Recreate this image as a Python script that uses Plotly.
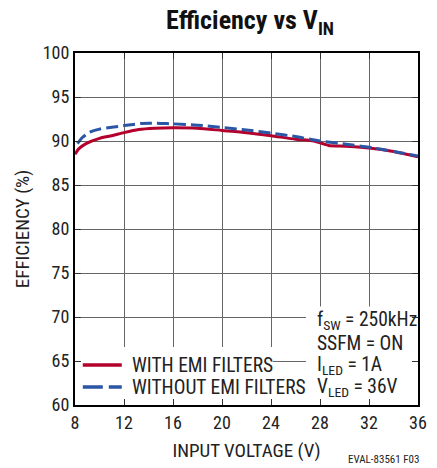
import plotly.graph_objects as go

# Data
vin_with = [8.0, 8.3, 8.9, 10.0, 11.0, 12.0, 13.2, 14.5, 16.0, 18.0, 20.0, 22.0, 24.0, 26.0, 27.5, 28.7, 30.0, 32.0, 34.0, 36.0]
eff_with = [88.5, 89.1, 89.7, 90.3, 90.6, 90.95, 91.3, 91.45, 91.5, 91.45, 91.2, 90.95, 90.6, 90.2, 90.0, 89.5, 89.4, 89.2, 88.8, 88.2]
vin_without = [8.2, 8.6, 9.2, 10.0, 11.0, 12.0, 13.5, 15.0, 16.0, 18.0, 20.0, 22.0, 24.0, 26.0, 28.0, 30.0, 32.0, 34.0, 36.0]
eff_without = [89.7, 90.4, 91.0, 91.35, 91.55, 91.75, 92.0, 92.0, 91.95, 91.8, 91.55, 91.25, 90.9, 90.5, 90.0, 89.65, 89.3, 88.8, 88.3]

x_ticks = [8, 12, 16, 20, 24, 28, 32, 36]
y_ticks = [60, 65, 70, 75, 80, 85, 90, 95, 100]

series_names = ["WITH EMI FILTERS", "WITHOUT EMI FILTERS"]
RED = "#b4002d"
BLUE = "#2b55a5"
FONT = "Liberation Sans Narrow, Arial Narrow, Roboto Condensed, sans-serif"
TXT = "#222222"

fig = go.Figure()
fig.add_trace(go.Scatter(x=vin_with, y=eff_with, mode="lines", name=series_names[0],
                         line=dict(color=RED, width=3, shape="spline", smoothing=0.6),
                         showlegend=False))
fig.add_trace(go.Scatter(x=vin_without, y=eff_without, mode="lines", name=series_names[1],
                         line=dict(color=BLUE, width=3, dash="12px,5px", shape="spline", smoothing=0.6),
                         showlegend=False))

axis_common = dict(showgrid=True, gridcolor="#666666", gridwidth=1,
                   showline=True, linecolor="black", linewidth=2, mirror="ticks",
                   ticks="inside", ticklen=6, tickcolor="#333333", tickwidth=1,
                   zeroline=False, tickfont=dict(family=FONT, size=18, color=TXT))

fig.update_xaxes(range=[8, 36], tickvals=x_ticks, ticktext=[str(v) for v in x_ticks],
                 title=dict(text="INPUT VOLTAGE (V)", font=dict(family=FONT, size=19, color=TXT), standoff=12),
                 **axis_common)
fig.update_yaxes(range=[60, 100], tickvals=y_ticks, ticktext=[str(v) for v in y_ticks],
                 title=dict(text="EFFICIENCY (%)", font=dict(family=FONT, size=19, color=TXT), standoff=8),
                 **axis_common)

# White boxes hiding the grid behind legend and conditions text
fig.add_shape(type="rect", xref="x", yref="y", x0=8.05, x1=24.15, y0=60.05, y1=66.6,
              fillcolor="white", line=dict(width=0), layer="between")
fig.add_shape(type="rect", xref="x", yref="y", x0=26.85, x1=35.5, y0=60.05, y1=71.2,
              fillcolor="white", line=dict(width=0), layer="between")

# Manual legend
fig.add_shape(type="line", xref="paper", yref="paper", x0=8/352, x1=48/352,
              y0=(405-365)/352, y1=(405-365)/352, line=dict(color=RED, width=3.5))
fig.add_shape(type="line", xref="paper", yref="paper", x0=8/352, x1=48/352,
              y0=(405-387)/352, y1=(405-387)/352, line=dict(color=BLUE, width=3.5, dash="20px,6px"))
for name, ypx in zip(series_names, [365, 387]):
    fig.add_annotation(xref="paper", yref="paper", x=56/352, y=(405-ypx)/352, text=name,
                       showarrow=False, xanchor="left", yanchor="middle",
                       font=dict(family=FONT, size=19.5, color=TXT))

# Conditions text
cond = ["f<sub>SW</sub> = 250kHz", "SSFM = ON", "I<sub>LED</sub> = 1A", "V<sub>LED</sub> = 36V"]
cond_y = [320, 343, 365, 387]
for t, ypx in zip(cond, cond_y):
    fig.add_annotation(xref="paper", yref="paper", x=(321-75)/352, y=(405-ypx)/352, text=t,
                       showarrow=False, xanchor="left", yanchor="middle",
                       font=dict(family=FONT, size=19.5, color=TXT))

fig.add_annotation(xref="paper", yref="paper", x=(430-75)/352, y=-(459-405)/352,
                   text="EVAL-83561 F03", showarrow=False, xanchor="right", yanchor="middle",
                   font=dict(family=FONT, size=11, color=TXT))

fig.update_layout(
    width=437, height=468,
    margin=dict(l=75, r=10, t=53, b=63),
    paper_bgcolor="white", plot_bgcolor="white",
    title=dict(text="<b>Efficiency vs V<sub>IN</sub></b>", x=250/437, xanchor="center",
               y=1 - 20/468, yanchor="middle",
               font=dict(family=FONT, size=26, color="#111111")),
)

fig.write_html("out.html")
